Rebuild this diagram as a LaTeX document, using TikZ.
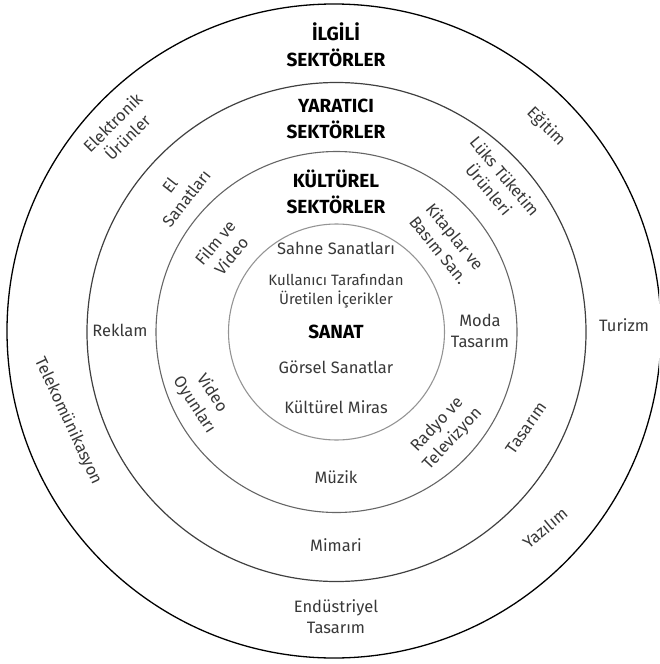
\documentclass[tikz,border=0pt]{standalone}
\usepackage{fontspec}
\setmainfont{Fira Sans}
\begin{document}
\begin{tikzpicture}[x=1pt,y=-1pt,
  lbl/.style={font=\fontsize{16.5}{21}\selectfont, align=center, text=black!78, inner sep=0pt},
  head/.style={font=\bfseries\fontsize{19}{26}\selectfont, align=center, text=black, inner sep=0pt},
  ring/.style={draw=#1, circle, inner sep=0pt}]
\useasboundingbox (0,0) rectangle (659,664);
\clip (0,0) rectangle (659,664);
% rings
\node[ring=black, line width=1.3pt, minimum size=654pt] (outer) at (334,331) {};
\node[ring=black!75, line width=1.2pt, minimum size=499pt] (creative) at (336.5,332) {};
\node[ring=black!60, line width=1.1pt, minimum size=361pt] (cultural) at (336.5,332) {};
\node[ring=black!42, line width=1.1pt, minimum size=216pt] (art) at (336.5,332) {};
% headings
\node[head] (h1) at (336,45) {İLGİLİ\\SEKTÖRLER};
\node[head] (h2) at (336,119) {YARATICI\\SEKTÖRLER};
\node[head] (h3) at (336,192) {KÜLTÜREL\\SEKTÖRLER};
% outer ring labels
\node[lbl, rotate=45] (elek) at (120,130) {Elektronik\\Ürünler};
\node[lbl, rotate=-45] (egit) at (546,127) {Eğitim};
\node[lbl] (turizm) at (624,325) {Turizm};
\node[lbl, rotate=-65] (tele) at (68,421) {Telekomünikasyon};
\node[lbl, rotate=40] (yaz) at (545,528) {Yazılım};
\node[lbl] (endus) at (336,617) {Endüstriyel\\Tasarım};
% creative ring labels
\node[lbl, rotate=52] (el) at (178,192) {El\\Sanatları};
\node[lbl, rotate=-50] (luks) at (497,183) {Lüks Tüketim\\Ürünleri};
\node[lbl] (reklam) at (120,330) {Reklam};
\node[lbl, rotate=55] (tas) at (526,428) {Tasarım};
\node[lbl] (mimari) at (336,545) {Mimari};
% cultural ring labels
\node[lbl, rotate=50] (film) at (223,249) {Film ve\\Video};
\node[lbl, rotate=-51] (kitap) at (447,243) {Kitaplar ve\\Basım San.};
\node[lbl] (moda) at (480,331) {Moda\\Tasarım};
\node[lbl, rotate=-57] (oyun) at (203,399) {Video\\Oyunları};
\node[lbl, rotate=47] (radyo) at (445,432) {Radyo ve\\Televizyon};
\node[lbl] (muzik) at (336,477) {Müzik};
% art circle labels
\node[lbl] (sahne) at (336,248) {Sahne Sanatları};
\node[lbl, font=\fontsize{15}{18.5}\selectfont] (kull) at (336,291) {Kullanıcı Tarafından\\Üretilen İçerikler};
\node[head] (sanat) at (336,332) {SANAT};
\node[lbl] (gorsel) at (336,367) {Görsel Sanatlar};
\node[lbl] (miras) at (336,407) {Kültürel Miras};
\end{tikzpicture}
\end{document}
